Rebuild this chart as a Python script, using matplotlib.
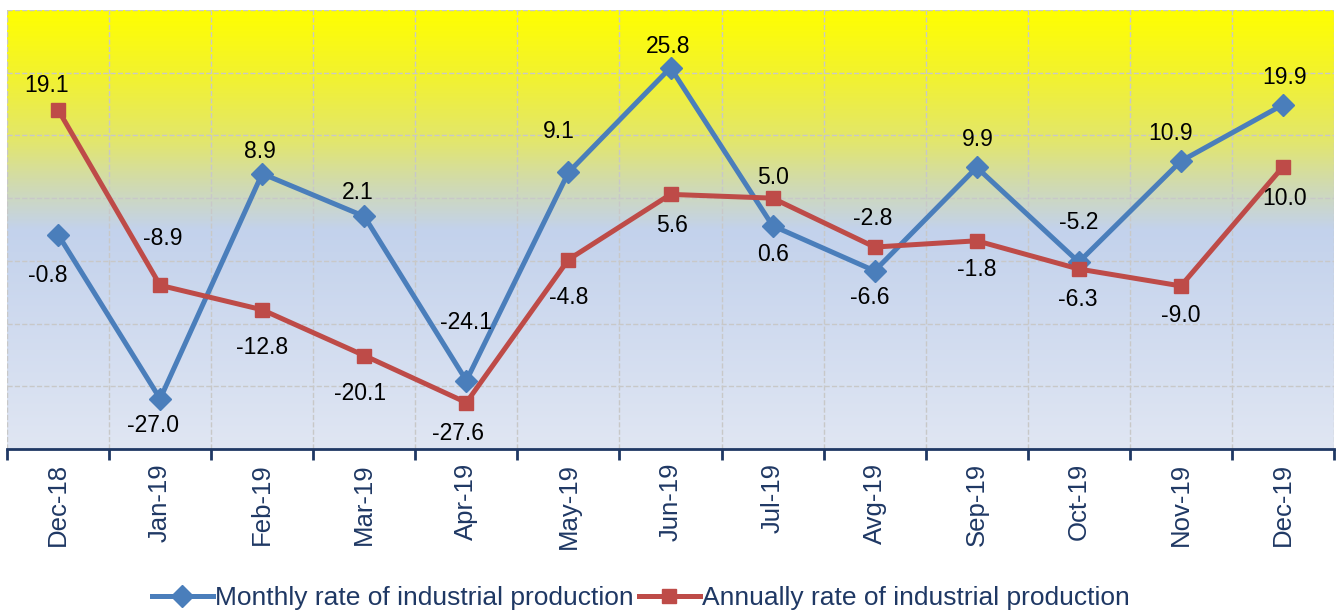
import numpy as np
import matplotlib.pyplot as plt
from matplotlib.colors import LinearSegmentedColormap

plt.rcParams['font.family'] = ['Liberation Sans', 'DejaVu Sans']

months = ['Dec-18', 'Jan-19', 'Feb-19', 'Mar-19', 'Apr-19', 'May-19', 'Jun-19',
          'Jul-19', 'Avg-19', 'Sep-19', 'Oct-19', 'Nov-19', 'Dec-19']
monthly = [-0.8, -27.0, 8.9, 2.1, -24.1, 9.1, 25.8, 0.6, -6.6, 9.9, -5.2, 10.9, 19.9]
annual = [19.1, -8.9, -12.8, -20.1, -27.6, -4.8, 5.6, 5.0, -2.8, -1.8, -6.3, -9.0, 10.0]

# label offsets in pixels (dx, dy), dy positive = downwards
monthly_off = [(-10, 41), (-7, 27), (-2, -22), (-7, -24), (0, -58), (-10, -41), (-2, -21),
               (0, 29), (-5, 27), (1, -28), (0, -40), (-10, -28), (2, -27)]
annual_off = [(-11, -24), (3, -47), (0, 38), (-4, 38), (-8, 31), (0, 38), (2, 31),
              (0, -21), (-2, -29), (0, 29), (-1, 30), (0, 30), (2, 32)]

blue = '#4A7EBB'
red = '#BE4B48'
navy = '#1F3864'

fig = plt.figure(figsize=(13.37, 6.10), dpi=100)
ax = fig.add_axes([7 / 1337, 1 - 449 / 610, 1327 / 1337, 439 / 610])

# background gradient (yellow at top to pale blue at bottom)
cmap = LinearSegmentedColormap.from_list('bg', [
    (0.0, '#FFFF00'), (0.15, '#F2F230'), (0.3, '#E2E66E'),
    (0.4, '#D0DAB2'), (0.5, '#C3D2EC'), (1.0, '#E0E6F3')])
grad = np.linspace(0, 1, 256).reshape(-1, 1)
ax.imshow(grad, cmap=cmap, aspect='auto', extent=[0, 1, 0, 1],
          transform=ax.transAxes, zorder=0)

x = np.arange(len(months))
ax.plot(x, monthly, color=blue, lw=3.6, marker='D', ms=11, zorder=3,
        label='Monthly rate of industrial production')
ax.plot(x, annual, color=red, lw=3.6, marker='s', ms=10, zorder=3,
        label='Annually rate of industrial production')

for xi, v, (dx, dy) in zip(x, monthly, monthly_off):
    ax.annotate(f'{v:.1f}', (xi, v), xytext=(dx, -dy), textcoords='offset pixels',
                ha='center', va='center', fontsize=16.5, color='black', zorder=4)
for xi, v, (dx, dy) in zip(x, annual, annual_off):
    ax.annotate(f'{v:.1f}', (xi, v), xytext=(dx, -dy), textcoords='offset pixels',
                ha='center', va='center', fontsize=16.5, color='black', zorder=4)

ax.set_xlim(-0.5, len(months) - 0.5)
ax.set_ylim(-35, 35)
ax.set_yticks(np.arange(-35, 36, 10))
ax.tick_params(axis='y', left=False, labelleft=False)

ax.set_xticks(np.arange(-0.5, len(months), 1))
ax.set_xticklabels([])
ax.set_xticks(x, minor=True)
ax.set_xticklabels(months, minor=True, rotation=90, fontsize=18.5, color=navy)
ax.tick_params(axis='x', which='major', length=8, width=2, color=navy, direction='out')
ax.tick_params(axis='x', which='minor', length=0, pad=10)

ax.grid(True, which='major', color='#C8C8C8', ls='--', lw=1, zorder=1)
ax.set_axisbelow(True)
for s in ['left', 'right', 'top']:
    ax.spines[s].set_visible(False)
ax.spines['bottom'].set_color(navy)
ax.spines['bottom'].set_linewidth(2)

fig.legend(loc='center', bbox_to_anchor=(641 / 1337, 1 - 598 / 610), ncol=2,
           frameon=False, fontsize=19, handlelength=2.3, handletextpad=0.1,
           columnspacing=0.2, labelcolor=navy, borderaxespad=0)

fig.savefig('out.png', dpi=100)
